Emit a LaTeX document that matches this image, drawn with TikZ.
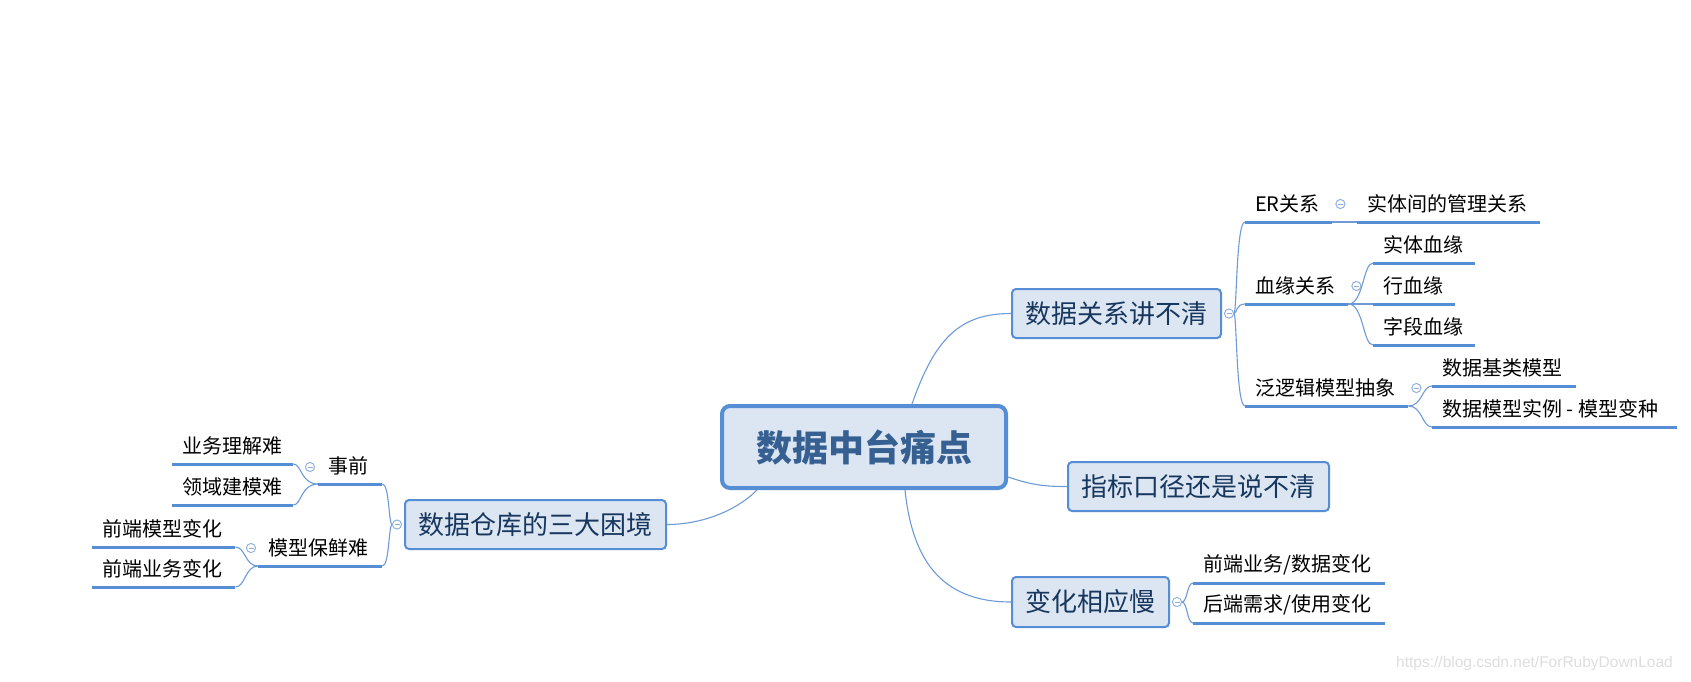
\documentclass[tikz,border=0pt]{standalone}
\usepackage{fontspec}
\setmainfont{Noto Sans CJK SC}
\newfontfamily\wmfont{Liberation Sans}
\usetikzlibrary{calc}
\definecolor{boxfill}{RGB}{220,230,242}
\definecolor{boxline}{RGB}{85,142,213}
\definecolor{connc}{RGB}{110,155,215}
\definecolor{subtext}{RGB}{23,55,94}
\definecolor{roottext}{RGB}{54,96,146}
\definecolor{knobc}{RGB}{140,175,222}
\definecolor{wmgray}{RGB}{222,222,222}
\begin{document}
\begin{tikzpicture}[x=1pt,y=-1pt,
  rootbox/.style={draw=boxline, line width=4pt, fill=boxfill, rounded corners=8pt,
    minimum width=284pt, minimum height=82pt, inner sep=0pt, text=roottext,
    font=\fontsize{36}{40}\selectfont\bfseries},
  subbox/.style={draw=boxline, line width=2pt, fill=boxfill, rounded corners=4pt,
    minimum height=49pt, inner sep=0pt, text=subtext,
    font=\fontsize{26}{30}\selectfont},
  leaf/.style={inner xsep=10pt, inner ysep=0pt, minimum height=36pt, anchor=south west,
    font=\fontsize{20}{24}\selectfont, text=black},
  uline/.style={draw=boxline, line width=3pt},
  conn/.style={draw=connc, line width=1.1pt},
  knob/.style={circle, draw=knobc, fill=white, line width=0.8pt, minimum size=9pt, inner sep=0pt,
    path picture={\draw[knobc, line width=0.8pt] ($(path picture bounding box.center)+(-2.5pt,0pt)$) -- ++(5pt,0pt);}}
]
\fill[white] (0,0) rectangle (1691,681);
\useasboundingbox (0,0) rectangle (1691,681);

% main topics
\node[rootbox] (root) at (864,447) {数据中台痛点};
\node[subbox, minimum width=209pt] (n1) at (1116.5,313.5) {数据关系讲不清};
\node[subbox, minimum width=261pt] (n2) at (1198.5,486.5) {指标口径还是说不清};
\node[subbox, minimum width=157pt, minimum height=50pt] (n3) at (1090.5,602) {变化相应慢};
\node[subbox, minimum width=261pt] (n4) at (535.5,524.5) {数据仓库的三大困境};

% leaves right
\node[leaf] (a1) at (1245,222) {\makebox[67pt][l]{ER关系}};
\node[leaf] (a2) at (1245,304) {\makebox[83pt][l]{血缘关系}};
\node[leaf] (a3) at (1245,406) {\makebox[143pt][l]{泛逻辑模型抽象}};
\node[leaf] (b1) at (1357,222) {\makebox[163pt][l]{实体间的管理关系}};
\node[leaf] (c1) at (1373,263) {\makebox[82pt][l]{实体血缘}};
\node[leaf] (c2) at (1373,304) {\makebox[62pt][l]{行血缘}};
\node[leaf] (c3) at (1373,345) {\makebox[82pt][l]{字段血缘}};
\node[leaf] (d1) at (1432,386) {\makebox[124pt][l]{数据基类模型}};
\node[leaf] (d2) at (1432,427) {\makebox[225pt][l]{数据模型实例 - 模型变种}};
\node[leaf] (e1) at (1193,583) {\makebox[172pt][l]{前端业务/数据变化}};
\node[leaf] (e2) at (1193,623) {\makebox[172pt][l]{后端需求/使用变化}};
% leaves left
\node[leaf] (f1) at (318,484) {\makebox[44pt][l]{事前}};
\node[leaf] (f2) at (258,566) {\makebox[104pt][l]{模型保鲜难}};
\node[leaf] (g1) at (172,464) {\makebox[101pt][l]{业务理解难}};
\node[leaf] (g2) at (172,505) {\makebox[101pt][l]{领域建模难}};
\node[leaf] (h1) at (92,547) {\makebox[123pt][l]{前端模型变化}};
\node[leaf] (h2) at (92,587) {\makebox[123pt][l]{前端业务变化}};

% underlines
\foreach \n in {a1,a2,a3,b1,c1,c2,c3,d1,d2,e1,e2,f1,f2,g1,g2,h1,h2}
  \draw[uline] (\n.south west) -- (\n.south east);

% connectors from root
\draw[conn] ($(root.north)+(48,0)$) .. controls ($(root.north)+(71,-66)$) and ($(n1.west)+(-51,0)$) .. (n1.west);
\draw[conn] ($(root.east)+(0,30)$) .. controls ($(root.east)+(24,38)$) and ($(n2.west)+(-23,0)$) .. (n2.west);
\draw[conn] ($(root.south)+(41,0)$) .. controls ($(root.south)+(48,67)$) and ($(n3.west)+(-72,0)$) .. (n3.west);
\draw[conn] ($(root.south)+(-107,0)$) .. controls ($(root.south)+(-129,22)$) and ($(n4.east)+(33,0)$) .. (n4.east);

% knobs
\node[knob] (k1) at ($(n1.east)+(7,0)$) {};
\node[knob] (k3) at ($(n3.east)+(7,0)$) {};
\node[knob] (k4) at ($(n4.west)+(-7,0)$) {};
\node[knob] (ka1) at ($(a1.south east)+(8,-18)$) {};
\node[knob] (ka2) at ($(a2.south east)+(8,-18)$) {};
\node[knob] (ka3) at ($(a3.south east)+(8,-18)$) {};
\node[knob] (kf1) at ($(f1.south west)+(-8,-17)$) {};
\node[knob] (kf2) at ($(f2.south west)+(-7,-18)$) {};

% n1 children
\foreach \c in {a1,a2,a3}
  \draw[conn] (k1.east) .. controls ($(k1.east)+(3,0)$) and ($(\c.south west)+(-9,0)$) .. (\c.south west);
\draw[conn] (a1.south east) -- (b1.south west);
\foreach \c in {c1,c2,c3}
  \draw[conn] (a2.south east) .. controls ($(a2.south east)+(15,0)$) and ($(\c.south west)+(-10,0)$) .. (\c.south west);
\foreach \c in {d1,d2}
  \draw[conn] (a3.south east) .. controls ($(a3.south east)+(14,0)$) and ($(\c.south west)+(-10,0)$) .. (\c.south west);
% n3 children
\foreach \c in {e1,e2}
  \draw[conn] (k3.east) .. controls ($(k3.east)+(5.5,0)$) and ($(\c.south west)+(-6,0)$) .. (\c.south west);
% n4 children
\foreach \c in {f1,f2}
  \draw[conn] (k4.west) .. controls ($(k4.west)+(-3.5,0)$) and ($(\c.south east)+(7,0)$) .. (\c.south east);
\foreach \c in {g1,g2}
  \draw[conn] (f1.south west) .. controls ($(f1.south west)+(-17,0)$) and ($(\c.south east)+(8,0)$) .. (\c.south east);
\foreach \c in {h1,h2}
  \draw[conn] (f2.south west) .. controls ($(f2.south west)+(-13,0)$) and ($(\c.south east)+(10,0)$) .. (\c.south east);

% redraw knobs on top
\foreach \k in {k1,k3,k4,ka1,ka2,ka3,kf1,kf2}
  \node[knob] at (\k) {};

% watermark
\node[font=\wmfont\fontsize{15.5}{18}\selectfont, text=wmgray, anchor=east, inner sep=0pt] (wm) at (1673,663) {https://blog.csdn.net/ForRubyDownLoad};
\end{tikzpicture}
\end{document}
